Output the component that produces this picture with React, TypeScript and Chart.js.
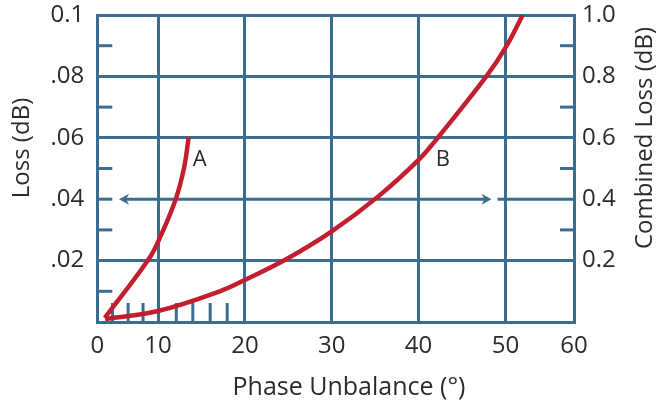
import { useEffect, useRef } from "react";
import { Chart, registerables } from "chart.js";

Chart.register(...registerables);

// ---- data ----
const xTickValues = [3, 10, 20, 30, 40, 50, 57.9];
const xTickLabels = ["0", "10", "20", "30", "40", "50", "60"];
const leftTickValues = [0, 0.02, 0.04, 0.06, 0.08, 0.1];
const leftTickLabels = ["", ".02", ".04", ".06", ".08", "0.1"];
const rightTickValues = [0, 0.2, 0.4, 0.6, 0.8, 1.0];
const rightTickLabels = ["", "0.2", "0.4", "0.6", "0.8", "1.0"];

const leftMinorTicks = [0.01, 0.03, 0.04, 0.05, 0.07, 0.09];
const rightMinorTicks = [0.3, 0.5, 0.7, 0.9];
const bottomMinorTicks = [4.75, 6.55, 8.27, 12.1, 14.0, 16.0, 17.96];

const curveAX = [3.86, 8.93, 10.2, 12.04, 12.99, 13.53];
const curveAY = [0.0013, 0.0205, 0.0274, 0.0401, 0.0502, 0.0603];

const curveBX = [3.9, 10, 17.1, 20, 24.8, 30, 35.4, 40, 42.2, 47.8, 50, 52.0];
const curveBY = [0.01, 0.036, 0.1, 0.137, 0.205, 0.295, 0.41, 0.528, 0.6, 0.8, 0.893, 1.0];

const arrowY = 0.04;
const arrowFromX = 5.5;
const arrowToX = 48.4;
const arrowTailX = 49.1;

const curveLabels = ["A", "B"];
const curveLabelX = [14.8, 42.8];
const curveLabelY = [0.0528, 0.0528];

const xTitle = "Phase Unbalance (°)";
const yTitle = "Loss (dB)";
const y1Title = "Combined Loss (dB)";

// ---- styles ----
const BLUE = "#3a6e91";
const RED = "#c31e2d";
const TEXT = "#2b2b2b";
const FONT_FAMILY = "'Open Sans', sans-serif";
const TICK_SIZE = 24;
const LABEL_SIZE = 22;
const TITLE_SIZE = 24;
const XTITLE_SIZE = 25;

const extrasPlugin = {
  id: "extras",
  beforeDatasetsDraw(chart: any) {
    const { ctx, chartArea } = chart;
    const x = chart.scales.x;
    const y = chart.scales.y;
    const y1 = chart.scales.y1;
    const line = (x1: number, yy1: number, x2: number, yy2: number) => {
      ctx.beginPath();
      ctx.moveTo(x1, yy1);
      ctx.lineTo(x2, yy2);
      ctx.stroke();
    };
    ctx.save();
    ctx.strokeStyle = BLUE;
    ctx.fillStyle = BLUE;
    ctx.lineWidth = 3;
    ctx.lineCap = "butt";
    leftMinorTicks.forEach((v) => {
      const py = y.getPixelForValue(v);
      line(chartArea.left, py, chartArea.left + 15, py);
    });
    rightMinorTicks.forEach((v) => {
      const py = y1.getPixelForValue(v);
      line(chartArea.right - 14, py, chartArea.right, py);
    });
    bottomMinorTicks.forEach((v) => {
      const px = x.getPixelForValue(v);
      line(px, chartArea.bottom, px, chartArea.bottom - 19);
    });
    const ay = y.getPixelForValue(arrowY);
    const a1 = x.getPixelForValue(arrowFromX);
    const a2 = x.getPixelForValue(arrowToX);
    line(a1 + 5, ay, a2 - 5, ay);
    ctx.beginPath();
    ctx.moveTo(a1, ay);
    ctx.lineTo(a1 + 10, ay - 5.5);
    ctx.lineTo(a1 + 7, ay);
    ctx.lineTo(a1 + 10, ay + 5.5);
    ctx.closePath();
    ctx.fill();
    ctx.beginPath();
    ctx.moveTo(a2, ay);
    ctx.lineTo(a2 - 10, ay - 5.5);
    ctx.lineTo(a2 - 7, ay);
    ctx.lineTo(a2 - 10, ay + 5.5);
    ctx.closePath();
    ctx.fill();
    line(x.getPixelForValue(arrowTailX), ay, chartArea.right, ay);
    ctx.restore();
  },
  afterDraw(chart: any) {
    const { ctx } = chart;
    const x = chart.scales.x;
    const y = chart.scales.y;
    ctx.save();
    ctx.fillStyle = TEXT;
    ctx.textAlign = "center";
    ctx.textBaseline = "middle";
    ctx.font = `${LABEL_SIZE}px ${FONT_FAMILY}`;
    curveLabels.forEach((t, i) => {
      ctx.fillText(t, x.getPixelForValue(curveLabelX[i]), y.getPixelForValue(curveLabelY[i]));
    });
    ctx.font = `${XTITLE_SIZE}px ${FONT_FAMILY}`;
    ctx.fillText(xTitle, 349, 388);
    ctx.font = `${TITLE_SIZE}px ${FONT_FAMILY}`;
    ctx.save();
    ctx.translate(22, 148);
    ctx.rotate(-Math.PI / 2);
    ctx.fillText(yTitle, 0, 0);
    ctx.restore();
    ctx.save();
    ctx.translate(645, 138);
    ctx.rotate(-Math.PI / 2);
    ctx.fillText(y1Title, 0, 0);
    ctx.restore();
    ctx.restore();
  },
};

const noOverflow = (s: any) => {
  s.paddingTop = 0;
  s.paddingBottom = 0;
};

export default function App() {
  const ref = useRef<HTMLCanvasElement>(null);
  useEffect(() => {
    document.body.style.margin = "0";
    const canvas = ref.current!;
    const tickFont = { family: FONT_FAMILY, size: TICK_SIZE };
    const chart = new Chart(canvas, {
      type: "line",
      data: {
        datasets: [
          {
            data: curveAX.map((v, i) => ({ x: v, y: curveAY[i] })),
            yAxisID: "y",
            borderColor: RED,
            borderWidth: 4.5,
            pointRadius: 0,
            tension: 0.4,
            fill: false,
          },
          {
            data: curveBX.map((v, i) => ({ x: v, y: curveBY[i] })),
            yAxisID: "y1",
            borderColor: RED,
            borderWidth: 4.5,
            pointRadius: 0,
            tension: 0.4,
            fill: false,
          },
        ],
      },
      options: {
        animation: false,
        responsive: false,
        events: [],
        layout: { padding: { top: 15, left: 0, right: 0, bottom: 0 } },
        plugins: { legend: { display: false }, tooltip: { enabled: false } },
        scales: {
          x: {
            type: "linear",
            min: xTickValues[0],
            max: xTickValues[xTickValues.length - 1],
            afterBuildTicks: (s: any) => {
              s.ticks = xTickValues.map((v) => ({ value: v }));
            },
            afterFit: (s: any) => {
              s.height = 82;
              s.paddingLeft = 0;
              s.paddingRight = 0;
            },
            ticks: {
              autoSkip: false,
              maxRotation: 0,
              padding: 10,
              color: TEXT,
              font: tickFont,
              callback: (_v: any, i: number) => xTickLabels[i],
            },
            grid: { color: BLUE, lineWidth: 3, drawTicks: false },
            border: { color: BLUE, width: 3 },
          },
          y: {
            type: "linear",
            position: "left",
            min: 0,
            max: 0.1,
            afterBuildTicks: (s: any) => {
              s.ticks = leftTickValues.map((v) => ({ value: v }));
            },
            afterFit: (s: any) => {
              s.width = 97.3;
              noOverflow(s);
            },
            ticks: {
              autoSkip: false,
              padding: 13,
              color: TEXT,
              font: tickFont,
              callback: (_v: any, i: number) => leftTickLabels[i],
            },
            grid: {
              color: (c: any) => (Math.abs(c.tick.value - arrowY) < 1e-9 ? "rgba(0,0,0,0)" : BLUE),
              lineWidth: 3,
              drawTicks: false,
            },
            border: { color: BLUE, width: 3 },
          },
          y1: {
            type: "linear",
            position: "right",
            min: 0,
            max: 1,
            afterBuildTicks: (s: any) => {
              s.ticks = rightTickValues.map((v) => ({ value: v }));
            },
            afterFit: (s: any) => {
              s.width = 93;
              noOverflow(s);
            },
            ticks: {
              autoSkip: false,
              padding: 8,
              color: TEXT,
              font: tickFont,
              callback: (_v: any, i: number) => rightTickLabels[i],
            },
            grid: { display: false, drawTicks: false },
            border: { color: BLUE, width: 3 },
          },
        },
      },
      plugins: [extrasPlugin],
    } as any);
    return () => chart.destroy();
  }, []);
  return (
    <canvas
      ref={ref}
      width={667}
      height={404}
      style={{ display: "block", width: 667, height: 404 }}
    />
  );
}
